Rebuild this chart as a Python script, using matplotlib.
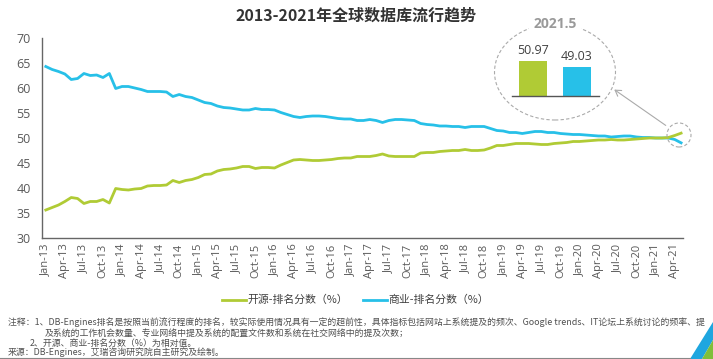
import numpy as np
import matplotlib
matplotlib.use("Agg")
import matplotlib.pyplot as plt
from matplotlib.patches import Ellipse, Polygon
from matplotlib.lines import Line2D

plt.rcParams['font.family'] = ['Noto Sans CJK SC', 'DejaVu Sans']

title = "2013-2021年全球数据库流行趋势"
series_names = ["开源-排名分数（%）", "商业-排名分数（%）"]

open_source = [35.6, 36.1, 36.6, 37.3, 38.1, 37.9, 36.9, 37.3, 37.3, 37.7,
               37.0, 39.9, 39.7, 39.6, 39.8, 39.9, 40.4, 40.5, 40.5, 40.6,
               41.5, 41.1, 41.5, 41.7, 42.1, 42.7, 42.8, 43.4, 43.7, 43.8,
               44.0, 44.3, 44.3, 43.9, 44.1, 44.1, 44.0, 44.6, 45.1, 45.6,
               45.7, 45.6, 45.5, 45.5, 45.6, 45.7, 45.9, 46.0, 46.0, 46.3,
               46.3, 46.3, 46.5, 46.8, 46.4, 46.3, 46.3, 46.3, 46.3, 47.0,
               47.1, 47.1, 47.3, 47.4, 47.5, 47.5, 47.7, 47.5, 47.5, 47.6,
               48.0, 48.5, 48.5, 48.7, 48.9, 48.9, 48.9, 48.8, 48.7, 48.7,
               48.9, 49.0, 49.1, 49.3, 49.3, 49.4, 49.5, 49.6, 49.6, 49.7,
               49.6, 49.6, 49.7, 49.8, 49.9, 50.0, 50.0, 50.0, 50.1, 50.5,
               50.97]

commercial = [64.3, 63.7, 63.3, 62.8, 61.7, 61.9, 62.9, 62.5, 62.6, 62.1,
              62.9, 59.9, 60.3, 60.3, 60.0, 59.7, 59.3, 59.3, 59.3, 59.2,
              58.3, 58.7, 58.3, 58.1, 57.6, 57.1, 56.9, 56.4, 56.1, 56.0,
              55.8, 55.6, 55.6, 55.9, 55.7, 55.7, 55.6, 55.1, 54.7, 54.3,
              54.1, 54.3, 54.4, 54.4, 54.3, 54.1, 53.9, 53.8, 53.8, 53.5,
              53.5, 53.7, 53.5, 53.1, 53.5, 53.7, 53.7, 53.6, 53.5, 52.9,
              52.7, 52.6, 52.4, 52.4, 52.3, 52.3, 52.1, 52.3, 52.3, 52.3,
              51.9, 51.5, 51.4, 51.1, 51.1, 50.9, 51.1, 51.3, 51.3, 51.1,
              51.1, 50.9, 50.8, 50.7, 50.7, 50.6, 50.5, 50.4, 50.4, 50.2,
              50.3, 50.4, 50.4, 50.2, 50.1, 50.1, 50.0, 50.0, 50.0, 49.7,
              49.03]

tick_labels = ["Jan-13", "Apr-13", "Jul-13", "Oct-13", "Jan-14", "Apr-14", "Jul-14", "Oct-14",
               "Jan-15", "Apr-15", "Jul-15", "Oct-15", "Jan-16", "Apr-16", "Jul-16", "Oct-16",
               "Jan-17", "Apr-17", "Jul-17", "Oct-17", "Jan-18", "Apr-18", "Jul-18", "Oct-18",
               "Jan-19", "Apr-19", "Jul-19", "Oct-19", "Jan-20", "Apr-20", "Jul-20", "Oct-20",
               "Jan-21", "Apr-21"]
yticks = [30, 35, 40, 45, 50, 55, 60, 65, 70]

inset_label = "2021.5"
inset_values = [50.97, 49.03]

notes = [
    "注释：1、DB-Engines排名是按照当前流行程度的排名，较实际使用情况具有一定的超前性，具体指标包括网站上系统提及的频次、Google trends、IT论坛上系统讨论的频率、提",
    "及系统的工作机会数量、专业网络中提及系统的配置文件数和系统在社交网络中的提及次数；",
    "2、开源、商业-排名分数（%）为相对值。",
    "来源：DB-Engines，艾瑞咨询研究院自主研究及绘制。",
]

GREEN = "#B0CB35"
BLUE = "#27C0E8"
W, H = 713, 359

def fx(x):
    return x / W

def fy(y):
    return 1 - y / H

fig = plt.figure(figsize=(W / 100, H / 100), dpi=100)

# main axes
ax = fig.add_axes([fx(42), fy(238), fx(683) - fx(42), fy(38) - fy(238)])
x = np.arange(len(open_source))
ax.plot(x, commercial, color=BLUE, lw=2.0, solid_joinstyle='round')
ax.plot(x, open_source, color=GREEN, lw=2.0, solid_joinstyle='round')
ax.set_xlim(-0.6, 100.3)
ax.set_ylim(30, 70)
ax.set_yticks(yticks)
ax.set_xticks(np.arange(len(tick_labels)) * 3)
ax.set_xticklabels(tick_labels, rotation=90, fontsize=8, color="#595959", family=['Open Sans', 'DejaVu Sans'])
ax.tick_params(axis='y', labelsize=9, colors="#595959", length=0, pad=8)
ax.tick_params(axis='x', length=0, pad=4)
for lab in ax.get_yticklabels():
    lab.set_family(['Open Sans', 'DejaVu Sans'])
for s in ['top', 'right']:
    ax.spines[s].set_visible(False)
ax.spines['left'].set_color("#666666")
ax.spines['bottom'].set_color("#666666")
ax.spines['left'].set_linewidth(1.0)
ax.spines['bottom'].set_linewidth(1.0)

# title
fig.text(0.5, fy(16), title, ha='center', va='center', fontsize=11.5, fontweight='bold', color="#333333")

# inset ellipse
ell = Ellipse((fx(555), fy(72)), 121 / W, 96 / H, transform=fig.transFigure, fill=False,
              ec="#AAAAAA", ls=(0, (3, 2)), lw=0.8)
fig.patches.append(ell)
fig.text(fx(555), fy(23.5), inset_label, ha='center', va='center', fontsize=10, fontweight='bold',
         color="#9A9A9A", family=['Open Sans', 'DejaVu Sans'],
         bbox=dict(boxstyle='square,pad=0.3', fc='white', ec='none'))

# inset bar axes
k = 35 / (inset_values[0] - 39.6)
axb = fig.add_axes([fx(512), fy(96), 87 / W, 66 / H])
axb.patch.set_alpha(0)
axb.bar([0, 1], inset_values, width=0.636, color=[GREEN, BLUE])
axb.set_xlim(-0.477, 1.5)
axb.set_ylim(39.6, 39.6 + 66 / k)
axb.set_xticks([])
axb.set_yticks([])
for s in ['top', 'right', 'left']:
    axb.spines[s].set_visible(False)
axb.spines['bottom'].set_color("#555555")
axb.spines['bottom'].set_linewidth(1.0)
for i, v in enumerate(inset_values):
    axb.text(i, v + 1.2, f"{v:.2f}", ha='center', va='bottom', fontsize=9, color="#404040",
             family=['Open Sans', 'DejaVu Sans'])

# small circle and arrow
circ = Ellipse((fx(679), fy(135)), 24 / W, 24 / H, transform=fig.transFigure, fill=False,
               ec="#AAAAAA", ls=(0, (3, 2)), lw=0.8)
fig.patches.append(circ)
fig.add_artist(matplotlib.patches.FancyArrowPatch((fx(668), fy(127)), (fx(612), fy(88)),
                                                  transform=fig.transFigure, arrowstyle='->,head_length=4,head_width=2.5',
                                                  color="#AAAAAA", lw=0.8))

# legend
fig.add_artist(Line2D([fx(222), fx(246)], [fy(300), fy(300)], color=GREEN, lw=2, transform=fig.transFigure))
fig.text(fx(247), fy(300), series_names[0], ha='left', va='center', fontsize=7.8, color="#404040")
fig.add_artist(Line2D([fx(363), fx(387)], [fy(300), fy(300)], color=BLUE, lw=2, transform=fig.transFigure))
fig.text(fx(388), fy(300), series_names[1], ha='left', va='center', fontsize=7.8, color="#404040")

# notes
NFS = 6.4
fig.text(fx(8), fy(322), notes[0], ha='left', va='center', fontsize=NFS, color="#505050")
fig.text(fx(45), fy(333), notes[1], ha='left', va='center', fontsize=NFS, color="#505050")
fig.text(fx(30), fy(343), notes[2], ha='left', va='center', fontsize=NFS, color="#505050")
fig.text(fx(8), fy(352), notes[3], ha='left', va='center', fontsize=NFS, color="#505050")
fig.add_artist(Line2D([0, fx(690)], [fy(357.5), fy(357.5)], color="#888888", lw=0.8, transform=fig.transFigure))

# corner decoration
fig.patches.append(Polygon([(fx(690), fy(359)), (fx(713), fy(322)), (fx(713), fy(340)), (fx(702), fy(359))],
                           closed=True, transform=fig.transFigure, fc="#1FA6DF", ec='none'))
fig.patches.append(Polygon([(fx(702), fy(359)), (fx(713), fy(340)), (fx(713), fy(359))],
                           closed=True, transform=fig.transFigure, fc="#7FBF3A", ec='none'))

fig.savefig("out.png", dpi=100)
